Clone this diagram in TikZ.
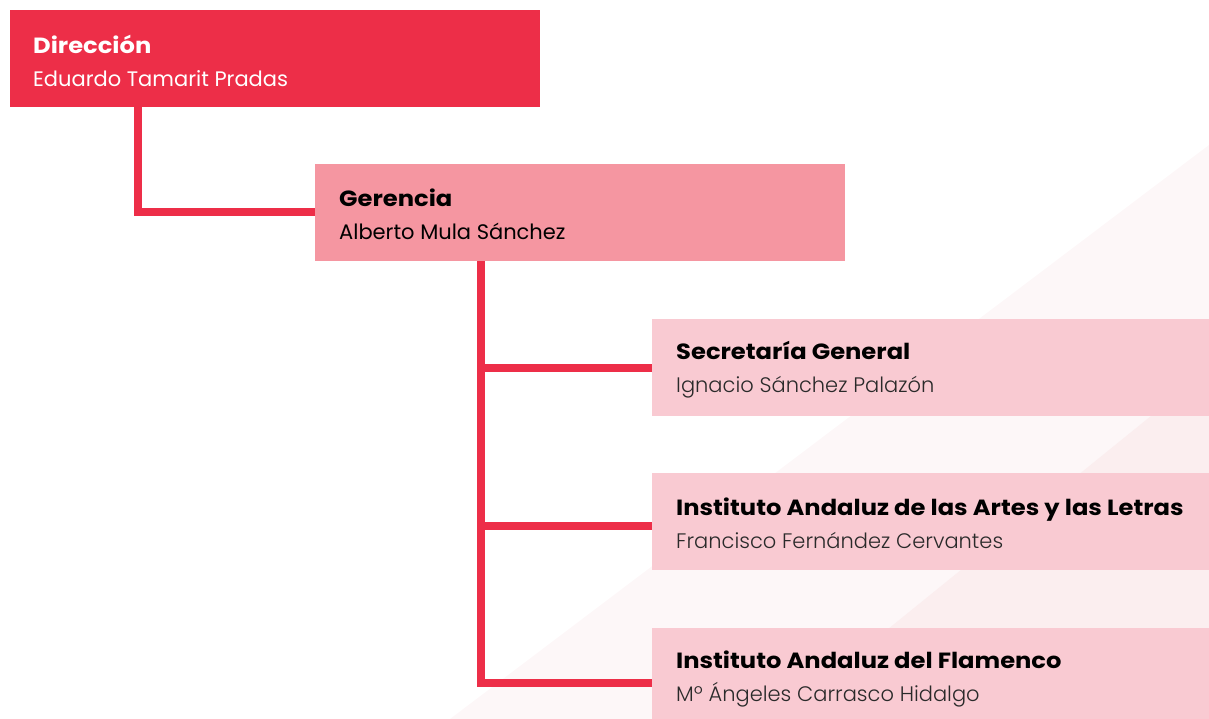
\documentclass[tikz,border=0pt]{standalone}
\usepackage{fontspec}
\setmainfont{Poppins}
\newfontfamily\heavyfont[FakeStretch=1.1]{Poppins}
\newfontfamily\lightfont{Poppins Light}
\definecolor{dirred}{HTML}{ED2E48}
\definecolor{gerpink}{HTML}{F596A1}
\definecolor{lowpink}{HTML}{F9CAD2}
\definecolor{bgone}{HTML}{FDF7F8}
\definecolor{bgtwo}{HTML}{FBEEEF}
\definecolor{nametext}{HTML}{2A2A2A}
\newcommand{\ttl}[1]{{\heavyfont\bfseries\fontsize{22}{33}\selectfont #1}}
\newcommand{\lnm}[1]{{\lightfont\color{nametext}#1}}
\tikzset{
  box/.style={anchor=north west, minimum height=97pt, inner sep=0pt, outer sep=0pt},
  boxtext/.style={anchor=west, align=left, inner sep=0pt, yshift=-2pt, font=\fontsize{21}{33}\selectfont},
  link/.style={draw=dirred, line width=8pt}
}
\begin{document}
\begin{tikzpicture}[x=1pt,y=-1pt]
\useasboundingbox (0,0) rectangle (1209,719);
\clip (0,0) rectangle (1209,719);
% background
\fill[bgone] (1209,145) -- (450,719) -- (1209,719) -- cycle;
\fill[bgtwo] (1209,369) -- (777,719) -- (1209,719) -- cycle;
% boxes
\node[box, fill=dirred, minimum width=530pt] (dir) at (10,10) {};
\node[box, fill=gerpink, minimum width=530pt] (ger) at (315,164) {};
\node[box, fill=lowpink, minimum width=570pt] (sec) at (652,319) {};
\node[box, fill=lowpink, minimum width=570pt] (iaal) at (652,473) {};
\node[box, fill=lowpink, minimum width=570pt] (iaf) at (652,628) {};
% connectors
\coordinate (dirx) at (138,107);
\coordinate (gerx) at (481,261);
\draw[link] (dirx) |- (ger.west);
\draw[link] (gerx) |- (sec.west);
\draw[link] (gerx) |- ([yshift=-4.5pt]iaal.west);
\draw[link] (gerx) |- ([yshift=-6.5pt]iaf.west);
% texts
\node[boxtext, text=white] (tdir) at ([xshift=23pt]dir.west) {\ttl{Dirección}\\Eduardo Tamarit Pradas};
\node[boxtext, text=black] (tger) at ([xshift=24pt]ger.west) {\ttl{Gerencia}\\Alberto Mula Sánchez};
\node[boxtext, text=black] (tsec) at ([xshift=24pt]sec.west) {\ttl{Secretaría General}\\\lnm{Ignacio Sánchez Palazón}};
\node[boxtext, text=black] (tiaal) at ([xshift=24pt]iaal.west) {\ttl{Instituto Andaluz de las Artes y las Letras}\\\lnm{Francisco Fernández Cervantes}};
\node[boxtext, text=black] (tiaf) at ([xshift=24pt]iaf.west) {\ttl{Instituto Andaluz del Flamenco}\\\lnm{Mº Ángeles Carrasco Hidalgo}};
\end{tikzpicture}
\end{document}
